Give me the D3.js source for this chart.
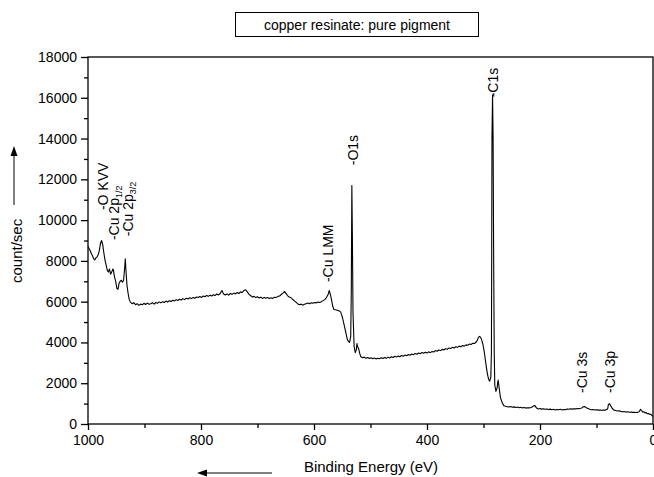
<!DOCTYPE html>
<html><head><meta charset="utf-8">
<script src="https://cdnjs.cloudflare.com/ajax/libs/d3/7.8.5/d3.min.js"></script>
<style>
html,body{margin:0;padding:0;background:#fff;}
svg text{font-family:"Liberation Sans",Arial,Helvetica,sans-serif;fill:#000;}
</style></head>
<body><svg id="c" width="654" height="477"></svg>
<script>
const title = "copper resinate: pure pigment";
const xLabel = "Binding Energy (eV)";
const yLabel = "count/sec";
const xMajorTicks = [1000, 800, 600, 400, 200, 0];
const xMinorTicks = [900, 700, 500, 300, 100];
const yMajorTicks = [0, 2000, 4000, 6000, 8000, 10000, 12000, 14000, 16000, 18000];
const yMinorTicks = [1000, 3000, 5000, 7000, 9000, 11000, 13000, 15000, 17000];

const energy = [1000,998,996,994,992,990,988,986,984,982,980,978,976,974,972,970,968,966,964,962,960,958,956,955,953,951,949,947,945,943,941,939,937,935,934,933,931,929,927,925,922,919,916,913,910,907,904,901,898,895,892,889,886,883,880,877,874,871,868,865,862,859,856,853,850,847,844,841,838,835,832,829,826,823,820,817,814,811,808,805,802,799,796,793,790,787,784,781,778,775,772,769,766,763,760,757,754,751,748,745,742,739,736,733,730,727,724,721,718,715,712,709,706,703,700,697,694,691,688,685,682,679,676,673,670,667,664,661,658,655,652,650,647,644,641,638,635,632,629,626,623,620,617,614,611,608,605,602,599,596,593,590,587,584,581,578,575,573,571,569,567,565,562,559,556,553,551,549,547,545,543,541,539,537,535,534,533,532,531,529,527,525,524,523,521,519,517,514,511,508,505,502,499,496,493,490,487,484,481,478,475,472,469,466,463,460,457,454,451,448,445,442,439,436,433,430,427,424,421,418,415,412,409,406,403,400,397,394,391,388,385,382,379,376,373,370,367,364,361,358,355,352,349,346,343,340,337,334,331,328,325,322,319,316,313,311,309,307,305,303,301,299,297,295,293,291,289,287,286,285.5,285,284,283,282,281,280,278,277,276,275,274,272,270,267,264,261,258,255,252,249,246,243,240,237,234,231,228,225,222,219,216,214,212,209,206,203,200,197,194,191,188,185,182,179,176,173,170,167,164,161,158,155,152,149,146,143,140,137,134,131,128,126,124,121,118,115,112,109,106,103,100,97,94,91,88,85,83,81,80,79,77,75,72,69,66,63,60,57,54,51,48,45,42,39,36,33,30,28,26,24,22,20,18,16,14,12,10,8,6,4,2,0];
const counts = [8700,8600,8500,8350,8250,8100,8050,8150,8200,8300,8500,8850,9000,8800,8400,8050,7800,7550,7450,7600,7350,7450,7600,7550,7200,7000,6650,6600,6900,7000,7050,6950,7050,7700,8100,7600,6800,6400,6100,5980,5900,5950,5850,5900,5820,5880,5850,5920,5860,5930,5870,5900,5950,5880,5960,5920,5990,5940,6000,5960,6030,5980,6050,6010,6070,6030,6100,6060,6120,6080,6150,6100,6170,6130,6190,6150,6210,6170,6230,6200,6250,6210,6280,6240,6300,6260,6320,6280,6340,6300,6380,6330,6400,6550,6380,6330,6380,6320,6400,6360,6420,6380,6450,6400,6480,6450,6550,6580,6480,6350,6300,6230,6260,6200,6240,6180,6220,6160,6210,6170,6200,6150,6190,6160,6220,6200,6260,6280,6350,6420,6500,6420,6300,6230,6200,6120,6050,5980,5900,5850,5880,5830,5870,5900,5930,5900,5950,5920,5960,5940,5980,5960,6000,6050,6100,6200,6350,6550,6350,6100,5800,5620,5600,5580,5550,5500,5350,5150,4900,4650,4400,4150,4050,4000,4300,6500,11700,9000,5500,3800,3500,3650,3950,3800,3700,3450,3300,3250,3280,3220,3260,3210,3250,3200,3240,3190,3230,3200,3250,3210,3260,3220,3280,3240,3300,3260,3320,3280,3340,3300,3360,3320,3380,3350,3410,3370,3430,3400,3460,3420,3480,3450,3510,3470,3520,3480,3540,3500,3560,3530,3600,3570,3630,3600,3660,3630,3700,3660,3730,3700,3760,3730,3790,3760,3820,3790,3850,3820,3880,3860,3920,3900,3960,3950,4020,4100,4250,4300,4250,4100,3900,3600,3200,2800,2450,2200,2100,2300,3500,8000,14000,16150,14000,8000,3500,1900,1600,1700,1750,2000,2150,1700,1300,1050,900,870,850,830,860,820,840,810,830,800,820,790,810,780,800,790,810,830,880,900,780,740,760,730,750,720,740,710,730,700,720,690,710,700,720,690,710,700,730,720,750,730,750,740,760,750,770,790,840,860,800,760,720,700,710,690,700,680,690,670,690,680,700,720,780,950,1000,900,760,680,660,640,650,620,600,610,590,600,580,590,570,580,560,570,580,620,720,650,580,600,540,560,500,520,470,480,420,380,300,200];

const peakNames = ["-O KVV", "-Cu 2p|1/2", "-Cu 2p|3/2", "-Cu LMM", "-O1s", "-C1s", "-Cu 3s", "-Cu 3p"];
const peakEnergy = [973, 954, 929, 575, 531, 283, 126, 76];
const peakLabelCount = [10490, 9020, 9210, 6960, 12690, 16020, 1520, 1520];

const svg = d3.select("#c");
const L = 88, R = 653, T = 57, B = 424;
const x = d3.scaleLinear().domain([1000, 0]).range([L, R]);
const y = d3.scaleLinear().domain([0, 18000]).range([B, T]);

// frame
svg.append("rect").attr("x", L).attr("y", T).attr("width", R - L).attr("height", B - T)
  .attr("fill", "none").attr("stroke", "#000").attr("stroke-width", 1.3);

// axes
const fs = "14px";
const gx = svg.append("g").attr("transform", `translate(0,${B})`)
  .call(d3.axisBottom(x).tickValues(xMajorTicks).tickSize(6).tickPadding(5).tickFormat(d3.format("d")));
const gxm = svg.append("g").attr("transform", `translate(0,${B})`)
  .call(d3.axisBottom(x).tickValues(xMinorTicks).tickSize(4).tickFormat(""));
const gy = svg.append("g").attr("transform", `translate(${L},0)`)
  .call(d3.axisLeft(y).tickValues(yMajorTicks).tickSize(7).tickPadding(4).tickFormat(d3.format("d")));
const gym = svg.append("g").attr("transform", `translate(${L},0)`)
  .call(d3.axisLeft(y).tickValues(yMinorTicks).tickSize(4).tickFormat(""));
[gx, gxm, gy, gym].forEach(g => {
  g.select(".domain").remove();
  g.selectAll("line").attr("stroke", "#000").attr("stroke-width", 1.3);
  g.selectAll("text").attr("font-size", fs).attr("font-family", "Liberation Sans, Arial, sans-serif").attr("fill", "#000");
});

// spectrum
const pts = energy.map((e, i) => [e, counts[i]]);
svg.append("path").datum(pts)
  .attr("d", d3.line().x(d => x(d[0])).y(d => y(d[1])))
  .attr("fill", "none").attr("stroke", "#000").attr("stroke-width", 1.1).attr("stroke-linejoin", "round");

// peak labels
peakNames.forEach((n, i) => {
  const [main, sub] = n.split("|");
  const t = svg.append("text")
    .attr("transform", `translate(${x(peakEnergy[i]) + 5},${y(peakLabelCount[i])}) rotate(-90)`)
    .attr("font-size", "14px");
  t.append("tspan").text(main);
  if (sub) t.append("tspan").attr("font-size", "9px").attr("dy", 3).text(sub);
});

// title box
svg.append("rect").attr("x", 235.5).attr("y", 12.5).attr("width", 243).attr("height", 24)
  .attr("fill", "none").attr("stroke", "#000").attr("stroke-width", 1);
svg.append("text").attr("x", 357).attr("y", 29.5).attr("text-anchor", "middle")
  .attr("font-size", "14px").text(title);

// x label + arrow
svg.append("text").attr("x", 371).attr("y", 472).attr("text-anchor", "middle")
  .attr("font-size", "15px").text(xLabel);
svg.append("line").attr("x1", 272).attr("x2", 204).attr("y1", 473).attr("y2", 473)
  .attr("stroke", "#000").attr("stroke-width", 1);
svg.append("path").attr("d", "M197,473 L207,469.5 L207,476.5 Z").attr("fill", "#000");

// y label + arrow
svg.append("text").attr("transform", "translate(22,283) rotate(-90)")
  .attr("font-size", "15px").text(yLabel);
svg.append("line").attr("x1", 14).attr("x2", 14).attr("y1", 205).attr("y2", 153)
  .attr("stroke", "#000").attr("stroke-width", 1);
svg.append("path").attr("d", "M14,146 L10.5,156 L17.5,156 Z").attr("fill", "#000");
</script></body></html>
